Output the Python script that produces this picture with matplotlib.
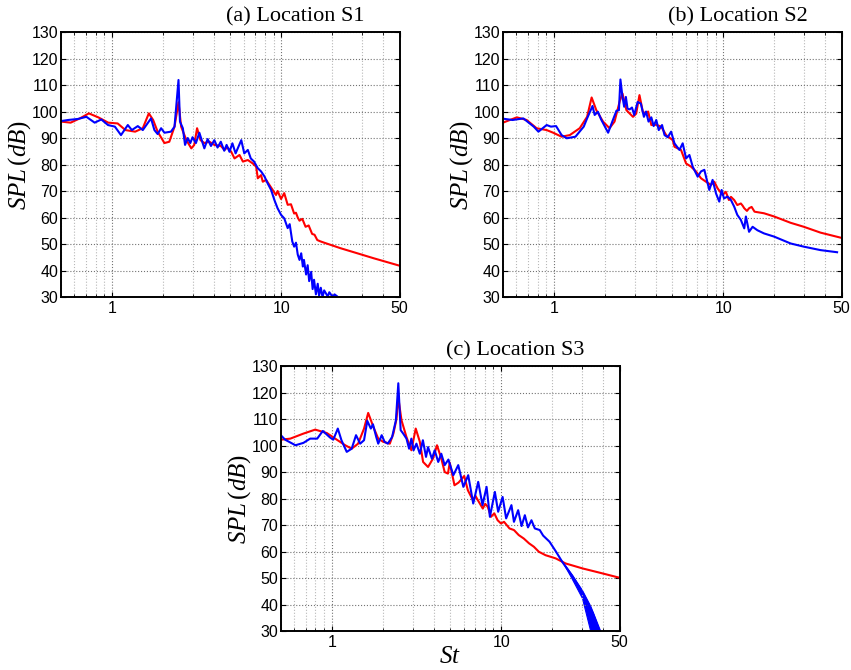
import matplotlib

matplotlib.use("Agg")

import matplotlib.pyplot as plt
import numpy as np
from matplotlib.ticker import FixedLocator, LogLocator, NullFormatter

plt.rcParams["font.family"] = "Liberation Sans"
plt.rcParams["mathtext.fontset"] = "custom"
plt.rcParams["mathtext.rm"] = "Liberation Serif"
plt.rcParams["mathtext.it"] = "Liberation Serif:italic"

# axis ticks
ST_TICKS = [1, 10, 50]
ST_TICK_LABELS = ["1", "10", "50"]
SPL_TICKS = list(range(30, 131, 10))

# (a) Location S1
a_red_st = [0.5, 0.57, 0.65, 0.73, 0.83, 0.95, 1.08, 1.2, 1.37, 1.52, 1.65, 1.75, 1.86, 2.04, 2.18,
            2.34, 2.42, 2.47, 2.56, 2.75, 2.94, 3.06, 3.18, 3.33, 3.51, 3.76, 4.02, 4.39, 4.62, 4.8,
            5.06, 5.29, 5.66, 5.93, 6.34, 6.78, 7.1, 7.26, 7.59, 7.77, 8.13, 8.5, 8.89, 9.3, 9.51,
            9.96, 10.4, 10.9, 11.4, 11.9, 12.2, 12.5, 12.8, 13.3, 13.9, 14.5, 15.2, 15.7, 16.3, 17.0,
            17.9, 22.4, 28.1, 35.2, 50.0]
a_red_spl = [96.2, 95.8, 97.5, 99.3, 97.8, 95.8, 95.5, 93.0, 92.4, 93.7, 99.3, 96.8, 92.4, 88.1, 88.6,
             94.3, 100.0, 103.5, 94.3, 89.2, 86.1, 87.4, 93.7, 89.2, 88.1, 88.6, 87.4, 87.0, 85.5, 86.5,
             84.8, 82.3, 83.6, 81.1, 81.7, 80.4, 79.2, 74.8, 76.0, 73.5, 74.2, 72.3, 70.4, 68.5, 70.0,
             67.0, 69.2, 64.8, 65.0, 61.5, 61.8, 60.0, 58.8, 59.5, 56.5, 57.0, 53.8, 53.5, 51.5, 51.0,
             50.5, 48.4, 46.5, 44.6, 41.8]
a_blue_st = [0.5, 0.55, 0.63, 0.706, 0.79, 0.865, 0.947, 1.04, 1.13, 1.24, 1.31, 1.42, 1.52, 1.70, 1.78,
             1.86, 1.95, 2.04, 2.23, 2.34, 2.47, 2.52, 2.62, 2.70, 2.80, 2.90, 2.99, 3.13, 3.28, 3.51,
             3.67, 3.84, 4.02, 4.2, 4.39, 4.6, 4.75, 4.94, 5.14, 5.37, 5.8, 6.04, 6.34, 6.6, 6.9,
             7.26, 7.59, 7.95, 8.3, 8.7, 9.1, 9.5, 9.96, 10.4, 10.9, 11.2, 11.6, 11.9, 12.2, 12.5,
             12.8, 13.1, 13.4, 13.6, 14.0, 14.3, 14.6, 15.0, 15.3, 15.6, 16.0, 16.4, 16.7, 17.1, 17.5,
             17.9, 18.8, 19.2, 20.1, 20.6, 21.4, 22.0]
a_blue_spl = [96.4, 96.8, 97.2, 98.0, 95.8, 97.0, 94.9, 94.3, 91.1, 94.9, 93.0, 94.5, 93.0, 97.4, 93.0,
              91.5, 93.7, 92.0, 92.4, 94.3, 111.9, 96.2, 93.7, 87.4, 90.0, 88.1, 90.3, 88.1, 92.0, 86.1,
              89.6, 87.0, 89.2, 86.4, 88.6, 85.2, 87.4, 84.8, 88.0, 84.2, 89.2, 84.2, 85.5, 82.3, 81.1,
              78.6, 77.4, 75.5, 72.9, 70.4, 66.6, 63.5, 61.0, 59.7, 56.0, 57.5, 51.0, 49.0, 50.5, 46.0,
              44.0, 46.5, 41.5, 44.0, 38.5, 42.0, 36.0, 39.5, 33.0, 36.5, 31.0, 35.0, 30.5, 33.5, 30.0,
              32.5, 30.2, 31.8, 30.0, 31.0, 30.2, 29.0]

# (b) Location S2
b_red_st = [0.5, 0.604, 0.69, 0.79, 0.906, 0.99, 1.11, 1.24, 1.42, 1.57, 1.67, 1.78, 1.95, 2.13, 2.28,
            2.45, 2.54, 2.68, 2.93, 3.06, 3.2, 3.35, 3.5, 3.6, 3.76, 4.02, 4.3, 4.6, 5.03, 5.15,
            5.63, 6.03, 6.45, 6.9, 7.39, 7.91, 8.46, 8.85, 9.26, 9.9, 10.35, 10.8, 11.1, 11.6, 12.1,
            12.7, 13.0, 13.3, 13.8, 14.2, 14.7, 15.3, 17.4, 19.95, 25.0, 29.9, 37.5, 50.0]
b_red_spl = [95.8, 97.8, 96.8, 93.7, 93.0, 92.0, 90.5, 91.1, 93.7, 98.0, 105.3, 100.5, 96.2, 93.7, 96.2,
             104.0, 106.8, 100.5, 98.0, 99.2, 106.2, 99.9, 99.2, 100.0, 94.9, 95.0, 94.3, 91.1, 89.2, 86.7,
             85.5, 80.4, 79.2, 77.4, 74.8, 73.5, 72.3, 73.5, 71.0, 68.5, 69.7, 66.6, 67.8, 66.6, 64.7,
             65.3, 64.5, 63.5, 62.5, 63.5, 64.0, 62.2, 61.6, 60.4, 58.0, 56.5, 54.3, 52.3]
b_blue_st = [0.5, 0.57, 0.66, 0.76, 0.81, 0.906, 0.96, 1.03, 1.11, 1.19, 1.34, 1.5, 1.57, 1.69, 1.74,
             1.82, 1.9, 2.09, 2.23, 2.34, 2.42, 2.47, 2.54, 2.6, 2.66, 2.72, 2.8, 2.89, 2.98, 3.12,
             3.26, 3.4, 3.5, 3.62, 3.76, 3.88, 4.02, 4.16, 4.35, 4.5, 4.7, 4.92, 5.15, 5.51, 5.76,
             6.03, 6.31, 6.6, 7.06, 7.39, 7.73, 7.91, 8.27, 8.65, 9.06, 9.47, 9.78, 10.1, 10.6, 11.1,
             11.6, 12.1, 12.7, 13.3, 13.6, 14.2, 14.9, 15.9, 17.4, 19.95, 25.0, 29.9, 37.5, 47.0]
b_blue_spl = [97.3, 96.8, 97.4, 94.3, 92.4, 94.9, 94.3, 94.5, 91.1, 89.9, 90.5, 94.3, 97.4, 102.1, 98.7,
              99.9, 97.0, 92.0, 96.8, 100.3, 100.5, 112.1, 105.5, 101.8, 105.5, 101.1, 100.8, 101.5, 98.7, 103.6,
              103.0, 98.0, 100.0, 96.2, 97.8, 94.5, 96.8, 93.0, 94.9, 91.1, 90.3, 92.4, 88.0, 85.5, 88.0,
              82.3, 83.6, 79.2, 75.4, 77.4, 78.0, 75.4, 70.4, 74.2, 69.1, 66.0, 70.4, 67.2, 67.9, 66.6,
              64.1, 61.0, 59.1, 55.9, 60.4, 54.6, 56.5, 55.2, 54.0, 52.8, 50.2, 49.0, 47.7, 46.9]

# (c) Location S3
c_red_st = [0.5, 0.569, 0.68, 0.798, 0.935, 1.07, 1.2, 1.31, 1.43, 1.55, 1.64, 1.76, 1.88, 2.01, 2.2,
            2.31, 2.41, 2.47, 2.58, 2.76, 2.95, 3.13, 3.31, 3.46, 3.7, 3.96, 4.18, 4.43, 4.64, 4.85,
            4.97, 5.3, 5.6, 6.05, 6.36, 6.81, 7.05, 7.28, 7.79, 8.05, 8.33, 8.71, 9.11, 9.53, 9.97,
            10.4, 11.2, 11.9, 12.7, 13.6, 14.6, 15.6, 16.7, 18.3, 21.0, 24.0, 30.3, 38.2, 50.0]
c_red_spl = [102.2, 102.6, 104.5, 106.0, 104.7, 102.2, 100.1, 98.8, 100.7, 106.4, 112.3, 107.0, 102.6, 101.4, 100.7,
             104.5, 110.0, 118.0, 109.5, 103.2, 98.2, 106.4, 101.4, 93.8, 91.9, 95.1, 100.1, 95.1, 90.0, 89.4,
             93.5, 85.0, 86.0, 88.5, 83.1, 79.4, 81.0, 79.4, 76.2, 78.0, 76.9, 73.1, 74.4, 71.8, 70.6,
             71.2, 68.7, 68.1, 66.2, 64.9, 63.1, 61.8, 59.9, 58.6, 57.4, 55.5, 53.6, 52.0, 50.1]
c_blue_st = [0.5, 0.53, 0.61, 0.68, 0.745, 0.82, 0.885, 0.977, 1.02, 1.085, 1.14, 1.225, 1.31, 1.39, 1.47,
             1.55, 1.62, 1.7, 1.75, 1.83, 1.88, 1.97, 2.05, 2.14, 2.27, 2.39, 2.47, 2.55, 2.64, 2.76,
             2.86, 2.95, 3.04, 3.16, 3.31, 3.45, 3.6, 3.7, 3.9, 4.05, 4.25, 4.43, 4.64, 4.88, 5.22,
             5.58, 5.98, 6.39, 6.84, 7.32, 7.76, 8.2, 8.58, 9.18, 9.6, 10.2, 10.7, 11.5, 11.9, 12.6,
             13.2, 13.8, 14.4, 15.1, 15.8, 16.9, 17.7, 19.3, 21.1, 23.0, 26.5, 30.4, 34.8, 38.0]
c_blue_spl = [103.9, 102.2, 100.1, 101.0, 102.6, 102.6, 105.5, 103.0, 102.2, 106.4, 102.0, 97.6, 98.8, 103.9, 100.7,
              102.0, 109.3, 106.4, 108.0, 103.2, 100.7, 103.9, 101.4, 100.7, 103.2, 109.5, 123.5, 105.8, 104.5, 102.6,
              98.8, 102.6, 98.2, 100.7, 96.9, 102.0, 95.7, 99.4, 95.0, 98.2, 93.8, 96.9, 92.6, 94.7, 88.8,
              92.6, 84.4, 88.8, 78.1, 86.3, 77.5, 84.4, 73.1, 82.5, 75.0, 80.6, 72.5, 77.5, 71.2, 75.6,
              69.6, 73.7, 69.1, 71.8, 68.7, 68.1, 66.0, 63.7, 59.9, 56.0, 50.5, 44.2, 36.7, 30.0]
# rapidly oscillating blue band past the crossing point in (c)
c_band_st = [22.8, 26.0, 30.0, 33.6, 38.5]
c_band_hi = [56.5, 51.5, 45.5, 39.5, 30.0]
c_band_lo = [56.5, 50.0, 42.5, 30.0, 22.0]

RED = "#ff0000"
BLUE = "#0000ff"
LW = 1.5


def style_axes(ax, title, show_xlabel=False):
    ax.set_xscale("log")
    ax.set_xlim(0.5, 50)
    ax.set_ylim(30, 130)
    ax.xaxis.set_major_locator(FixedLocator(ST_TICKS))
    ax.set_xticklabels(ST_TICK_LABELS)
    ax.xaxis.set_minor_locator(LogLocator(base=10, subs=np.arange(2, 10), numticks=20))
    ax.xaxis.set_minor_formatter(NullFormatter())
    ax.set_yticks(SPL_TICKS)
    ax.grid(which="major", ls=":", color="0.45", lw=0.8)
    ax.grid(which="minor", axis="x", ls=":", color="0.72", lw=0.8)
    ax.tick_params(which="both", direction="in", top=True, right=True, labelsize=11.5, pad=3)
    ax.tick_params(axis="y", pad=2)
    ax.tick_params(which="major", length=3.5)
    ax.tick_params(which="minor", length=2)
    for sp in ax.spines.values():
        sp.set_linewidth(1.4)
    ax.set_ylabel(r"$SPL\,(dB)$", fontsize=18)
    ax.yaxis.set_label_coords(-0.083, 0.5)
    ax.text(0.693, 1.02, title, transform=ax.transAxes, ha="center", va="bottom",
            family="Liberation Serif", fontsize=16)
    if show_xlabel:
        ax.set_xlabel(r"$St$", fontsize=18)
        ax.xaxis.set_label_coords(0.5, -0.05)


fig = plt.figure(figsize=(8.51, 6.70), dpi=100)
ax_a = fig.add_axes([0.0717, 0.5567, 0.398, 0.3955])
ax_b = fig.add_axes([0.591, 0.5567, 0.398, 0.3955])
ax_c = fig.add_axes([0.330, 0.0582, 0.398, 0.3955])

ax_a.plot(a_red_st, a_red_spl, color=RED, lw=LW)
ax_a.plot(a_blue_st, a_blue_spl, color=BLUE, lw=LW)
style_axes(ax_a, "(a) Location S1")

ax_b.plot(b_red_st, b_red_spl, color=RED, lw=LW)
ax_b.plot(b_blue_st, b_blue_spl, color=BLUE, lw=LW)
style_axes(ax_b, "(b) Location S2")

ax_c.plot(c_red_st, c_red_spl, color=RED, lw=LW)
ax_c.plot(c_blue_st, c_blue_spl, color=BLUE, lw=LW)
ax_c.fill_between(c_band_st, c_band_lo, c_band_hi, color=BLUE, lw=0.8, edgecolor=BLUE)
style_axes(ax_c, "(c) Location S3", show_xlabel=True)

fig.savefig("out.png", dpi=100)
